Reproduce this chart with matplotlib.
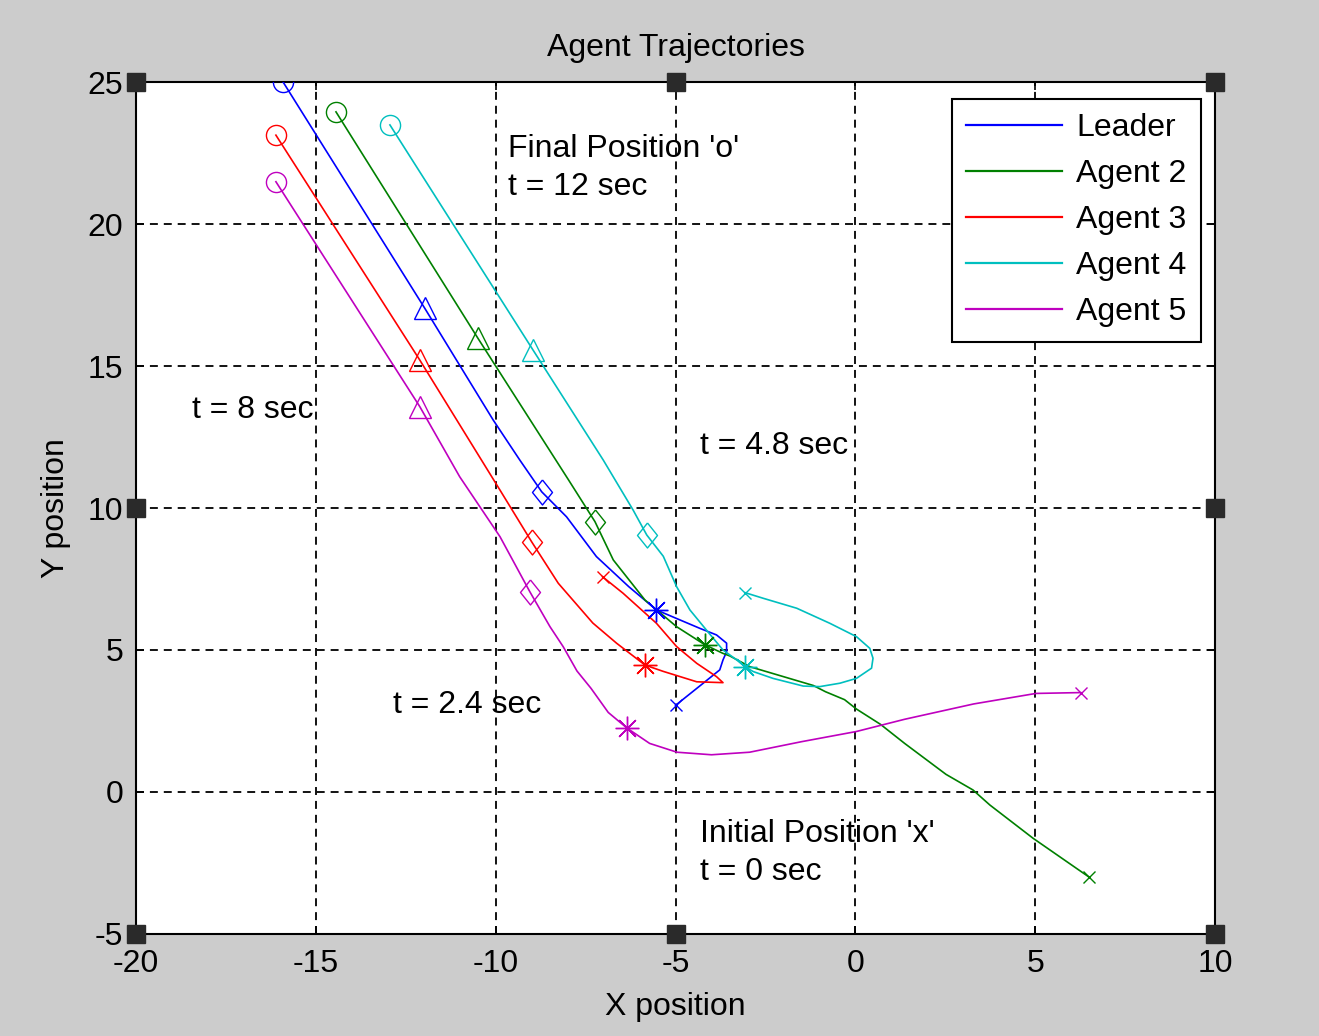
import matplotlib
matplotlib.use("Agg")
import matplotlib.pyplot as plt

plt.rcParams['font.family'] = ['Liberation Sans', 'DejaVu Sans']

# ---------------- data ----------------
agent_names = ["Leader", "Agent 2", "Agent 3", "Agent 4", "Agent 5"]
agent_colors = ["#0000ff", "#008000", "#ff0000", "#00bfbf", "#bf00bf"]

leader_x = [-5.00, -4.23, -3.77, -3.68, -3.58, -3.58, -3.86, -4.32, -4.88, -5.53,
            -6.30, -7.20, -8.03, -8.72, -9.33, -10.07, -11.97, -15.91]
leader_y = [3.05, 3.83, 4.30, 4.65, 4.94, 5.24, 5.53, 5.76, 6.06, 6.41,
            7.23, 8.29, 9.69, 10.57, 11.69, 13.10, 17.03, 25.00]
leader_marks = [0, 9, 13, 16, 17]

agent2_x = [6.50, 4.94, 3.74, 3.27, 2.52, 1.37, 0.70, 0.03, -0.30, -0.83, -1.17,
            -2.93, -3.49, -3.68, -4.18, -4.97, -5.85, -6.73, -7.24, -7.98, -10.49, -14.44]
agent2_y = [-3.00, -1.63, -0.46, 0.07, 0.62, 1.71, 2.38, 2.92, 3.25, 3.53, 3.75,
            4.41, 4.79, 4.88, 5.18, 5.82, 6.76, 8.17, 9.52, 11.00, 15.97, 23.95]
agent2_marks = [0, 14, 18, 20, 21]

agent3_x = [-7.03, -6.46, -5.53, -4.97, -4.41, -3.86, -3.68, -4.41, -5.35, -5.85,
            -6.64, -7.30, -8.26, -9.00, -9.88, -12.11, -16.11]
agent3_y = [7.58, 7.00, 5.94, 5.12, 4.53, 4.06, 3.85, 3.88, 4.25, 4.47,
            5.24, 5.95, 7.35, 8.81, 10.63, 15.21, 23.13]
agent3_marks = [0, 9, 13, 15, 16]

agent4_x = [-3.07, -2.56, -1.63, -0.71, 0.03, 0.40, 0.49, 0.45, 0.03, -0.43, -0.99,
            -1.45, -2.29, -2.84, -3.07, -3.30, -3.68, -4.14, -4.60, -4.97, -5.34,
            -5.80, -6.18, -7.01, -8.96, -12.94]
agent4_y = [7.02, 6.82, 6.47, 5.94, 5.47, 5.06, 4.71, 4.36, 4.00, 3.83, 3.71,
            3.73, 4.00, 4.24, 4.41, 4.65, 5.00, 5.70, 6.41, 7.23, 8.30,
            9.05, 9.93, 11.69, 15.56, 23.49]
agent4_marks = [0, 14, 21, 24, 25]

agent5_x = [6.26, 5.02, 3.29, 1.37, 0.03, -1.50, -2.94, -4.00, -4.96, -5.72, -6.35,
            -6.87, -7.35, -7.74, -8.12, -8.49, -9.05, -9.88, -11.00, -12.11, -16.11]
agent5_y = [3.50, 3.47, 3.10, 2.56, 2.13, 1.77, 1.40, 1.31, 1.40, 1.71, 2.25,
            2.80, 3.65, 4.26, 5.11, 5.82, 7.05, 8.99, 11.10, 13.57, 21.49]
agent5_marks = [0, 10, 16, 19, 20]

x_ticks = [-20, -15, -10, -5, 0, 5, 10]
y_ticks = [-5, 0, 5, 10, 15, 20, 25]

annot_texts = ["Final Position 'o'\nt = 12 sec", "t = 8 sec", "t = 4.8 sec",
               "t = 2.4 sec", "Initial Position 'x'\nt = 0 sec"]
annot_x = [-9.66, -18.45, -4.32, -12.86, -4.32]
annot_y = [21.97, 13.45, 12.18, 3.06, -2.15]

# ---------------- styling ----------------
diamond = [(0, 1), (0.8, 0), (0, -1), (-0.8, 0), (0, 1)]
mark_styles = [  # t = 0, 2.4, 4.8, 8, 12
    dict(marker='x', ms=9, mew=1.0),
    dict(marker=(8, 2, 0), ms=17, mew=1.0),
    dict(marker=diamond, ms=18, mew=1.0),
    dict(marker='^', ms=16, mew=1.0),
    dict(marker='o', ms=14.5, mew=1.0),
]

fig = plt.figure(figsize=(13.19, 10.36), dpi=100, facecolor='#cccccc')
ax = fig.add_axes([0.1031, 0.0985, 0.8181, 0.8223])
ax.set_facecolor('white')

paths = [(leader_x, leader_y, leader_marks), (agent2_x, agent2_y, agent2_marks),
         (agent3_x, agent3_y, agent3_marks), (agent4_x, agent4_y, agent4_marks),
         (agent5_x, agent5_y, agent5_marks)]

for (px, py, mk), name, col in zip(paths, agent_names, agent_colors):
    ax.plot(px, py, color=col, lw=1.2, label=name, zorder=3)
    for idx, st in zip(mk, mark_styles):
        ax.plot([px[idx]], [py[idx]], linestyle='none', color=col,
                markerfacecolor='none', markeredgecolor=col, zorder=4, **st)

ax.set_xlim(-20, 10)
ax.set_ylim(-5, 25)
ax.set_xticks(x_ticks)
ax.set_yticks(y_ticks)
ax.set_xticklabels([str(v) for v in x_ticks])
ax.set_yticklabels([str(v) for v in y_ticks])
ax.tick_params(axis='both', direction='in', length=6, width=1.2, top=True, right=True,
               labelsize=23, colors='black')
ax.tick_params(axis='x', pad=11)
ax.tick_params(axis='y', pad=9)
ax.grid(True, color='black', lw=1.3, linestyle=(0, (4.4, 3.3)))
ax.set_axisbelow(True)
for s in ax.spines.values():
    s.set_linewidth(1.5)
    s.set_color('black')

ax.set_title("Agent Trajectories", fontsize=23, pad=19)
ax.set_xlabel("X position", fontsize=23, labelpad=9)
ax.set_ylabel("Y position", fontsize=23, labelpad=12)

for t, tx, ty in zip(annot_texts, annot_x, annot_y):
    ax.text(tx, ty, t, fontsize=23, ha='left', va='center', linespacing=1.38, zorder=5)

leg = ax.legend(loc='upper right', bbox_to_anchor=(0.987, 0.980), borderaxespad=0,
                fontsize=23, handlelength=3.0, handletextpad=0.45, labelspacing=0.5,
                borderpad=0.45, fancybox=False, framealpha=1, edgecolor='black')
leg.get_frame().set_linewidth(1.5)
for line in leg.get_lines():
    line.set_linewidth(1.6)

# figure selection handles (corners and edge midpoints of the axes box)
for hx, hy in [(0, 0), (0.5, 0), (1, 0), (0, 0.5), (1, 0.5), (0, 1), (0.5, 1), (1, 1)]:
    ax.plot([hx], [hy], marker='s', ms=13, color='#2a2a2a', transform=ax.transAxes,
            clip_on=False, zorder=10)

fig.savefig("out.png", dpi=100, facecolor=fig.get_facecolor())
